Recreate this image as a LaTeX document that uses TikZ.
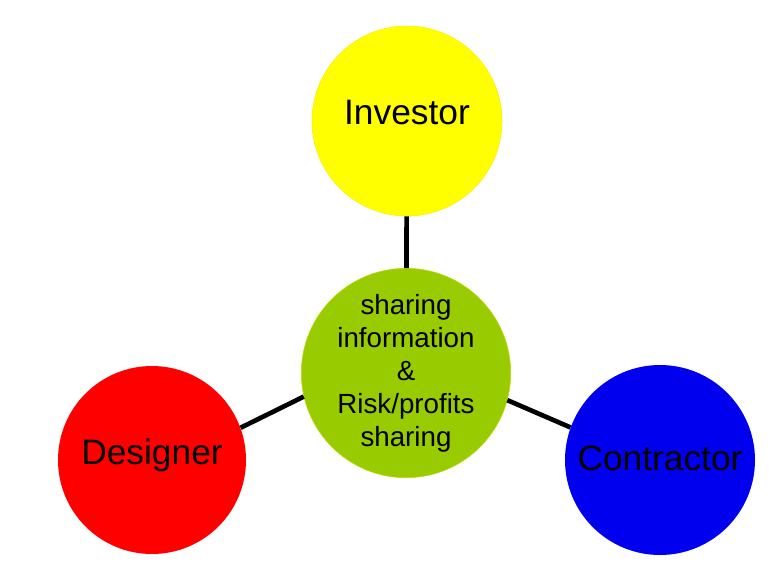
\documentclass[tikz,border=0pt]{standalone}
\usepackage{fontspec}
\setmainfont{Liberation Sans}
\usetikzlibrary{positioning}
\definecolor{invyellow}{RGB}{255,255,0}
\definecolor{sharegreen}{RGB}{153,204,0}
\definecolor{desred}{RGB}{255,0,0}
\definecolor{conblue}{RGB}{0,0,238}

\begin{document}
\begin{tikzpicture}[x=0.75pt,y=-0.75pt,
      mycircle/.style={
         circle,
         inner sep=0pt,
         text=black,
         font=\fontsize{26.5}{30}\selectfont},
      mylink/.style={line width=3.5pt, black}
      ]
      \useasboundingbox (0,0) rectangle (771,583);
      \node[mycircle,fill=invyellow,draw=invyellow!85!orange,minimum size=142.5pt,text depth=13pt] (investor) at (407,121) {Investor};
      \node[mycircle,fill=sharegreen,draw=sharegreen!70!yellow,minimum size=156pt,align=center,
            font=\fontsize{20.8}{24.75}\selectfont] (share) at (406,373) {sharing\\information\\\&\\Risk/profits\\sharing};
      \node[mycircle,fill=desred,minimum size=141pt,text depth=12pt] (designer) at (152,460) {Designer};
      \node[mycircle,fill=conblue,minimum size=142.5pt,text depth=3pt] (contractor) at (660,460) {Contractor};
      \draw[mylink] (investor) -- (share);
      \draw[mylink] (designer.20) -- (share.193);
      \draw[mylink] (share.-15) -- (contractor.160);
\end{tikzpicture}
\end{document}
